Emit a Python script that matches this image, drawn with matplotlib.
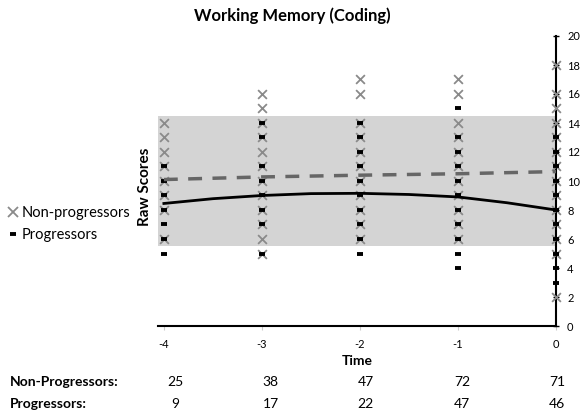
import matplotlib
matplotlib.use("Agg")
import matplotlib.pyplot as plt
import matplotlib.transforms as mtransforms
from matplotlib.lines import Line2D

plt.rcParams['font.family'] = ['Lato', 'DejaVu Sans']
plt.rcParams['axes.unicode_minus'] = False

# ---- data ----
times = [-4, -3, -2, -1, 0]
non_prog_scores = {
    -4: [6, 8, 9, 10, 11, 12, 13, 14],
    -3: [5, 6, 7, 8, 9, 10, 11, 12, 13, 14, 15, 16],
    -2: [6, 7, 8, 9, 10, 11, 12, 13, 14, 16, 17],
    -1: [6, 7, 8, 9, 10, 11, 12, 13, 14, 16, 17],
    0: [2, 5, 6, 7, 8, 9, 10, 11, 12, 13, 14, 15, 16, 18],
}
prog_scores = {
    -4: [5, 6, 7, 8, 9, 10, 11],
    -3: [5, 7, 8, 9, 10, 11, 13, 14],
    -2: [5, 6, 7, 8, 9, 10, 11, 12, 13, 14],
    -1: [4, 5, 6, 7, 8, 9, 10, 11, 12, 13, 15],
    0: [3, 4, 5, 6, 7, 8, 9, 10, 11, 12, 13],
}
nonprog_fit_t = [-4, -3, -2, -1, 0]
nonprog_fit_v = [10.1, 10.28, 10.4, 10.5, 10.65]
prog_fit_t = [-4, -3.5, -3, -2.5, -2, -1.5, -1, -0.5, 0]
prog_fit_v = [8.45, 8.78, 9.0, 9.13, 9.15, 9.07, 8.9, 8.5, 8.0]
band_low, band_high = 5.5, 14.5
n_nonprog = [25, 38, 47, 72, 71]
n_prog = [9, 17, 22, 47, 46]
yticks = list(range(0, 21, 2))

# ---- figure ----
W, H = 582, 415
fig = plt.figure(figsize=(W / 100, H / 100), dpi=100)
ax = fig.add_axes([158 / W, 1 - 326 / H, (556 - 158) / W, (326 - 36) / H])
ax.set_xlim(-4.06, 0)
ax.set_ylim(0, 20)

ax.axhspan(band_low, band_high, color='#d4d4d4', zorder=0, lw=0)

for t in times:
    ys = non_prog_scores[t]
    ax.scatter([t] * len(ys), ys, marker='x', s=40, color='#8a8a8a',
               linewidths=1.3, zorder=3, clip_on=False)
for t in times:
    ys = prog_scores[t]
    ax.plot([t] * len(ys), ys, linestyle='none', marker='_', markersize=4,
            markeredgewidth=2.8, color='black', zorder=4, clip_on=False)

ax.plot(nonprog_fit_t, nonprog_fit_v, color='#666666', lw=2.5,
        dashes=(4, 3), zorder=5)
ax.plot(prog_fit_t, prog_fit_v, color='black', lw=2, zorder=5)

for s in ['top', 'left']:
    ax.spines[s].set_visible(False)
ax.spines['right'].set_linewidth(1.5)
ax.spines['bottom'].set_linewidth(1.5)
ax.yaxis.tick_right()
ax.set_yticks(yticks)
ax.tick_params(axis='y', labelsize=8, length=4, direction='inout', width=1,
               pad=6)
ax.set_xticks(times)
ax.tick_params(axis='x', labelsize=8, length=3, color='#cccccc', pad=6)

ax.set_xlabel('Time', fontsize=10, fontweight='bold', labelpad=4)
fig.text(145 / W, 1 - 187 / H, 'Raw Scores', rotation=90, fontsize=11,
         fontweight='bold', ha='center', va='center')
fig.text(292 / W, 1 - 16 / H, 'Working Memory (Coding)', fontsize=12,
         fontweight='bold', ha='center', va='center')

handles = [
    Line2D([], [], linestyle='none', marker='x', color='#8a8a8a',
           markersize=7, markeredgewidth=1.3),
    Line2D([], [], linestyle='none', marker='_', color='black',
           markersize=4, markeredgewidth=2.8),
]
fig.legend(handles, ['Non-progressors', 'Progressors'], loc='center left',
           bbox_to_anchor=(0.0, 1 - 224 / H), frameon=False, fontsize=10.5,
           handlelength=0.6, handletextpad=0.3, labelspacing=0.55,
           borderaxespad=0.2)

trans = mtransforms.blended_transform_factory(ax.transData, fig.transFigure)
fig.text(10 / W, 1 - 382 / H, 'Non-Progressors:', fontsize=10,
         fontweight='bold', va='center', ha='left')
fig.text(10 / W, 1 - 404 / H, 'Progressors:', fontsize=10,
         fontweight='bold', va='center', ha='left')
num_x = [-3.88, -2.91, -1.94, -0.96, 0.01]
for xx, a, b in zip(num_x, n_nonprog, n_prog):
    fig.text(xx, 1 - 382 / H, str(a), transform=trans, fontsize=10,
             ha='center', va='center')
    fig.text(xx, 1 - 404 / H, str(b), transform=trans, fontsize=10,
             ha='center', va='center')

fig.savefig('out.png', dpi=100)
